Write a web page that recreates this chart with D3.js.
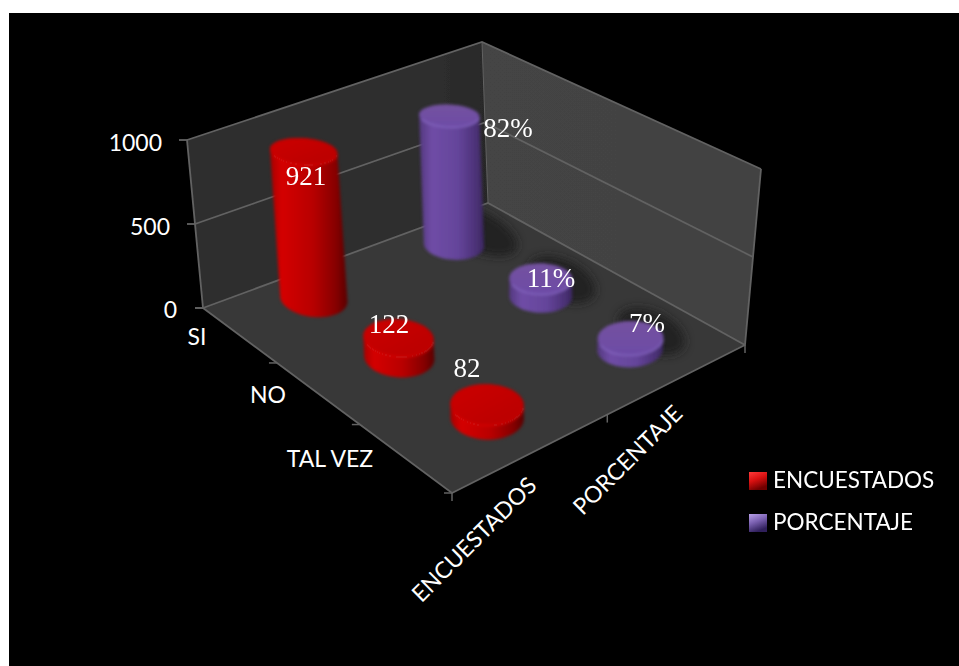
<!DOCTYPE html>
<html><head><meta charset="utf-8">
<script src="https://cdnjs.cloudflare.com/ajax/libs/d3/7.8.5/d3.min.js"></script>
<style>html,body{margin:0;padding:0;background:#fff}svg{display:block}</style>
</head><body><svg id="c" width="959" height="666"></svg>
<script>
const categories = ["SI", "NO", "TAL VEZ"];
const seriesNames = ["ENCUESTADOS", "PORCENTAJE"];
const encuestados = [921, 122, 82];
// plotted heights of the percentage series on the 0-1000 axis
const porcentaje = [820, 110, 70];
const encuestadosLabels = ["921", "122", "82"];
const porcentajeLabels = ["82%", "11%", "7%"];
const valueTicks = [0, 500, 1000];

// projection: floor corners and height vectors of the 3D box
const floorL = [203, 308], floorB = [488, 203], floorF = [452, 493], floorR = [745, 345];
const topL = [187, 140], topB = [482, 42], topR = [761, 169], topF = [447, 320];

const svg = d3.select("#c");
const defs = svg.append("defs");
const lerp = (p, q, t) => [p[0] + (q[0] - p[0]) * t, p[1] + (q[1] - p[1]) * t];
const yFrac = d3.scaleLinear().domain([0, 1000]).range([0, 1]);
function project(u, v, val) {
  const f = lerp(lerp(floorL, floorB, u), lerp(floorF, floorR, u), v);
  const t = lerp(lerp(topL, topB, u), lerp(topF, topR, u), v);
  return lerp(f, t, yFrac(val));
}
const uScale = d3.scaleOrdinal().domain(seriesNames).range([0.283, 0.773]);
const vScale = d3.scaleOrdinal().domain(categories).range([0.12, 0.46, 0.81]);
const uEdge = d3.scaleLinear().domain([0, 1, 2]).range([0, 0.53, 1]);
const vEdge = d3.scaleLinear().domain([0, 1, 2, 3]).range([0, 0.297, 0.63, 1]);
const markHeight = d3.scaleLinear().domain([0, 1000]).range([0, 960]);
const line = d3.line();

function grad(id, stops, x2, y2) {
  const g = defs.append("linearGradient").attr("id", id)
    .attr("x1", 0).attr("y1", 0).attr("x2", x2).attr("y2", y2);
  stops.forEach(s => g.append("stop").attr("offset", s[0]).attr("stop-color", s[1]));
}
grad("leftWall", [[0, "#2f2f2f"], [0.85, "#2d2d2d"], [1, "#282828"]], 1, 0);
grad("rightWall", [[0, "#444444"], [1, "#424242"]], 1, 0);
grad("floor", [[0, "#393939"], [1, "#383838"]], 1, 1);
grad("body0", [[0, "#a80000"], [0.15, "#d40000"], [0.55, "#b80000"], [0.85, "#860000"], [1, "#5a0000"]], 1, 0);
grad("body1", [[0, "#54387f"], [0.2, "#6f4da6"], [0.6, "#64449a"], [0.88, "#4b3176"], [1, "#3a2660"]], 1, 0);
grad("top0", [[0, "#cc0000"], [1, "#b80000"]], 1, 1);
grad("top1", [[0, "#74529f"], [1, "#6c4ba6"]], 0, 1);
grad("swatch0", [[0, "#ff3a3a"], [0.5, "#d81010"], [1, "#700000"]], 0.4, 1);
grad("swatch1", [[0, "#b8a0e8"], [0.5, "#7a60b0"], [1, "#30205c"]], 0.4, 1);
defs.append("filter").attr("id", "soft").attr("x", "-20%").attr("y", "-20%").attr("width", "140%").attr("height", "140%")
  .append("feGaussianBlur").attr("stdDeviation", 1.5);
defs.append("filter").attr("id", "shadow").attr("x", "-40%").attr("y", "-40%").attr("width", "180%").attr("height", "180%")
  .append("feGaussianBlur").attr("stdDeviation", 4);
defs.append("filter").attr("id", "wallSoft").append("feGaussianBlur").attr("stdDeviation", 0.7);
defs.append("clipPath").attr("id", "floorClip").append("path")
  .attr("d", line([floorL, floorB, floorR, floorF]) + "Z");

svg.append("rect").attr("x", 9).attr("y", 13).attr("width", 950).attr("height", 653).attr("fill", "#000");

// walls and floor
const box = svg.append("g").attr("filter", "url(#wallSoft)");
box.append("path").attr("d", line([floorL, floorB, topB, topL]) + "Z").attr("fill", "url(#leftWall)");
box.append("path").attr("d", line([floorB, floorR, topR, topB]) + "Z").attr("fill", "url(#rightWall)");
box.append("path").attr("d", line([floorL, floorB, floorR, floorF]) + "Z").attr("fill", "url(#floor)");

const edge = "#626262";
const stroke = (sel, w) => sel.attr("fill", "none").attr("stroke", edge).attr("stroke-width", w);
valueTicks.forEach(t => {
  stroke(box.append("path").attr("d", line([project(0, 0, t), project(1, 0, t), project(1, 1, t)])), 1.8);
});
stroke(box.append("path").attr("d", line([topL, floorL, floorF, floorR, topR])), 1.8);
stroke(box.append("path").attr("d", line([topB, floorB])), 1);

// value axis ticks and labels
const font = "Lato, 'Open Sans', sans-serif";
const valueLabelRight = [177, 170, 162], valueLabelBase = [318, 235, 151];
valueTicks.forEach((t, i) => {
  const p = project(0, 0, t);
  stroke(box.append("path").attr("d", line([[p[0] - 8, p[1]], p])), 1.8);
  svg.append("text").attr("x", valueLabelRight[i]).attr("y", valueLabelBase[i]).attr("text-anchor", "end")
    .attr("font-family", font).attr("font-size", 23).attr("fill", "#fff").text(t);
});
d3.range(categories.length + 1).forEach(i => {
  const p = lerp(floorL, floorF, vEdge(i));
  stroke(box.append("path").attr("d", line([[p[0] - 8, p[1]], p])), 1.5);
});
d3.range(seriesNames.length + 1).forEach(i => {
  const p = lerp(floorF, floorR, uEdge(i));
  stroke(box.append("path").attr("d", line([p, [p[0], p[1] + 8]])), 1.5);
});
const catLabelPos = [[197, 345], [268, 403], [330, 467]];
categories.forEach((c, i) => {
  svg.append("text").attr("x", catLabelPos[i][0]).attr("y", catLabelPos[i][1]).attr("text-anchor", "middle")
    .attr("font-family", font).attr("font-size", 23).attr("fill", "#fff").text(c);
});
const serLabelPos = [[538, 487], [684, 415]];
seriesNames.forEach((c, i) => {
  svg.append("text").attr("transform", `translate(${serLabelPos[i]}) rotate(-45)`).attr("text-anchor", "end")
    .attr("font-family", font).attr("font-size", 23).attr("fill", "#fff").text(c);
});

// cylinders
const rows = [];
seriesNames.forEach((s, si) => {
  const vals = si === 0 ? encuestados : porcentaje;
  const labs = si === 0 ? encuestadosLabels : porcentajeLabels;
  categories.forEach((c, ci) => rows.push({ s, si, c, ci, val: vals[ci], lab: labs[ci] }));
});
const ruBy = [0.09, 0.08], rvBy = [0.09, 0.08];
const angles = d3.range(0, 2 * Math.PI, Math.PI / 30);
const flatten = d3.scaleLinear().domain([0, 1000]).range([1, 0.72]);
const perspective = d3.scaleLinear().domain([0, 1]).range([0.97, 1.08]);
function ring(d, val) {
  const u = uScale(d.s), v = vScale(d.c), k0 = perspective(v);
  const c0 = project(u, v, 0), c1 = project(u, v, markHeight(val)), k = flatten(val);
  return angles.map(a => {
    const p = project(u + k0 * ruBy[d.si] * Math.cos(a), v + k0 * rvBy[d.si] * Math.sin(a), 0);
    return [c1[0] + (p[0] - c0[0]), c1[1] + (p[1] - c0[1]) * k];
  });
}
const marks = svg.append("g");
// floor shadows, clipped to the floor
const shadows = marks.append("g").attr("clip-path", "url(#floorClip)").append("g").attr("filter", "url(#shadow)");
rows.filter(d => d.si === 1).forEach(d => {
  const c = project(uScale(d.s) + 0.1, vScale(d.c) - 0.03, 0);
  const w = d.ci === 0 ? 46 : 36;
  shadows.append("ellipse").attr("cx", c[0]).attr("cy", c[1])
    .attr("rx", w).attr("ry", 20).attr("transform", `rotate(25 ${c[0]} ${c[1]})`).attr("fill", "#242424");
});
const order = rows.slice().sort((a, b) => (a.ci - a.si) - (b.ci - b.si));
const g = marks.append("g").attr("filter", "url(#soft)");
order.forEach(d => {
  const base = ring(d, 0), top = ring(d, d.val);
  const hull = d3.polygonHull(base.concat(top));
  g.append("path").attr("d", line(hull) + "Z").attr("fill", `url(#body${d.si})`);
  g.append("path").attr("d", line(top) + "Z").attr("fill", `url(#top${d.si})`);
  const near = angles.map((a, i) => [Math.sin(a - 0.6), top[i]]).filter(x => x[0] > 0.2).map(x => x[1]);
  g.append("path").attr("d", line(near)).attr("fill", "none")
    .attr("stroke", d.si === 0 ? "#e01010" : "#8a6ac6").attr("stroke-width", 1.5).attr("opacity", 0.8);
});

// data labels
const labelPos = {
  "ENCUESTADOS|SI": [306, 185], "ENCUESTADOS|NO": [389, 333], "ENCUESTADOS|TAL VEZ": [467, 377],
  "PORCENTAJE|SI": [508, 137], "PORCENTAJE|NO": [551, 287], "PORCENTAJE|TAL VEZ": [647, 332]
};
rows.forEach(d => {
  const p = labelPos[d.s + "|" + d.c];
  svg.append("text").attr("x", p[0]).attr("y", p[1]).attr("text-anchor", "middle")
    .attr("font-family", "'Liberation Serif', serif").attr("font-size", 27).attr("fill", "#fff").text(d.lab);
});

// legend
const legendY = [472, 514];
seriesNames.forEach((s, i) => {
  svg.append("rect").attr("x", 749).attr("y", legendY[i]).attr("width", 18).attr("height", 18)
    .attr("fill", `url(#swatch${i})`);
  svg.append("text").attr("x", 773).attr("y", legendY[i] + 16).attr("font-family", font)
    .attr("font-size", 22.5).attr("fill", "#fff").text(s);
});
</script></body></html>
